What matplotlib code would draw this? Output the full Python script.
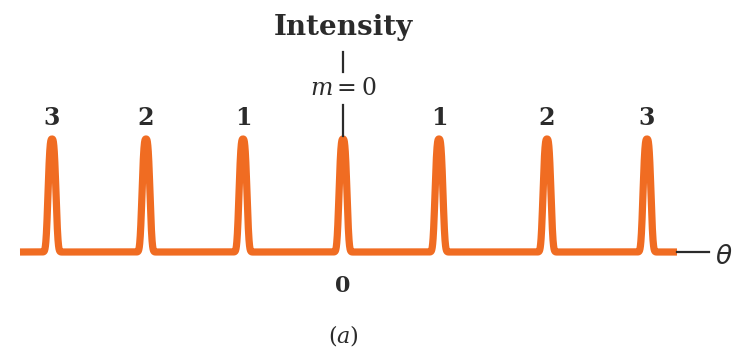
import numpy as np
import matplotlib
matplotlib.use("Agg")
import matplotlib.pyplot as plt

# principal maxima of the grating pattern (theta in arbitrary units, 0 at centre)
peak_theta = [-291, -197, -100, 0, 96, 204, 304]
peak_order = ["3", "2", "1", "0", "1", "2", "3"]
peak_height = [1.0, 1.0, 1.0, 1.0, 1.0, 1.0, 1.0]

theta_min, theta_max = -323, 334
peak_halfwidth = 4.6

ORANGE = "#F06C22"
INK = "#2b2b2b"
W, H = 751, 349
CX, BASE, AMP = 343, 252, 113   # centre column, baseline row and peak height in pixels


def y_of(row):
    # pixel row -> intensity units
    return (BASE - row) / AMP


theta = np.linspace(theta_min, theta_max, 6000)
intensity = np.zeros_like(theta)
for c, h in zip(peak_theta, peak_height):
    intensity += h * np.exp(-(np.abs(theta - c) / peak_halfwidth) ** 3)

fig = plt.figure(figsize=(W / 100, H / 100), dpi=100)
ax = fig.add_axes([0, 0, 1, 1])
ax.set_xlim(-CX, W - CX)
ax.set_ylim(y_of(H), y_of(0))
ax.axis("off")

ax.plot(theta, intensity, color=ORANGE, lw=5.2, solid_capstyle="butt", solid_joinstyle="round")
# theta axis continues past the pattern
ax.plot([theta_max, theta_max + 32], [0, 0], color=INK, lw=1.6)
ax.text(theta_max + 38, y_of(256), r"$\theta$", fontsize=19, color=INK,
        ha="left", va="center", family="DejaVu Serif")

serif = "DejaVu Serif"
for c, lab in zip(peak_theta, peak_order):
    if lab == "0":
        continue
    ax.text(c, y_of(125), lab, fontsize=17, color=INK, ha="center", va="baseline",
            family=serif, fontweight="bold")

# intensity axis label above the central maximum
ax.text(0, y_of(35), "Intensity", fontsize=20, color=INK, ha="center", va="baseline",
        family=serif, fontweight="bold")
ax.plot([0, 0], [y_of(52), y_of(72)], color=INK, lw=1.6)
ax.plot([0, 0], [y_of(105), y_of(136)], color=INK, lw=1.6)
ax.text(0, y_of(88), r"$m = 0$", fontsize=17, color=INK, ha="center", va="center",
        math_fontfamily="dejavuserif")

ax.text(0, y_of(292), "0", fontsize=16, color=INK, ha="center", va="baseline",
        family=serif, fontweight="bold")
ax.text(0, y_of(335), r"$(a)$", fontsize=16, color=INK, ha="center", va="center",
        math_fontfamily="dejavuserif")

fig.savefig("out.png", dpi=100, facecolor="white")
